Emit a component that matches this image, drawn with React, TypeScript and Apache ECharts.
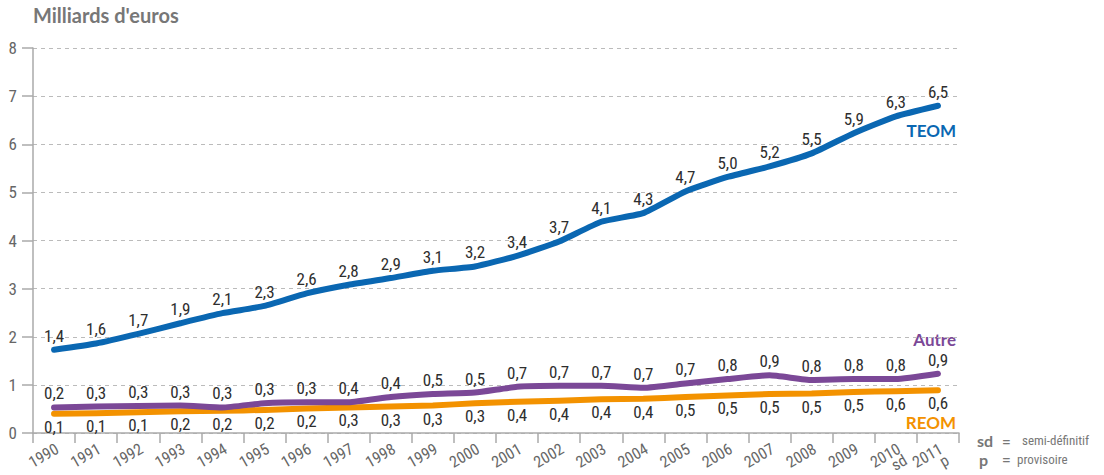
import React, { useEffect, useRef } from "react";
import * as echarts from "echarts";

const years = ["1990","1991","1992","1993","1994","1995","1996","1997","1998","1999","2000","2001","2002","2003","2004","2005","2006","2007","2008","2009","2010","2011"];
const yearSuffix = ["","","","","","","","","","","","","","","","","","","","","sd","p"];

// Line positions as drawn in the reference
const teomLine = [1.73,1.86,2.06,2.28,2.49,2.64,2.90,3.08,3.22,3.37,3.46,3.68,3.98,4.39,4.57,5.02,5.32,5.54,5.81,6.23,6.58,6.80];
const autreLine = [0.53,0.55,0.56,0.57,0.53,0.62,0.64,0.64,0.75,0.81,0.84,0.96,0.98,0.98,0.94,1.03,1.12,1.20,1.10,1.12,1.12,1.23];
const reomLine = [0.40,0.41,0.43,0.45,0.46,0.48,0.51,0.53,0.55,0.57,0.62,0.65,0.67,0.70,0.71,0.75,0.78,0.81,0.82,0.85,0.87,0.89];

// Printed value labels
const teomLabels = ["1,4","1,6","1,7","1,9","2,1","2,3","2,6","2,8","2,9","3,1","3,2","3,4","3,7","4,1","4,3","4,7","5,0","5,2","5,5","5,9","6,3","6,5"];
const autreLabels = ["0,2","0,3","0,3","0,3","0,3","0,3","0,3","0,4","0,4","0,5","0,5","0,7","0,7","0,7","0,7","0,7","0,8","0,9","0,8","0,8","0,8","0,9"];
const reomLabels = ["0,1","0,1","0,1","0,2","0,2","0,2","0,2","0,3","0,3","0,3","0,3","0,4","0,4","0,4","0,4","0,5","0,5","0,5","0,5","0,5","0,6","0,6"];

const yTicks = [0, 1, 2, 3, 4, 5, 6, 7, 8];

const COND = "'Roboto Condensed', 'DejaVu Sans Condensed', sans-serif";
const BOLD = "Lato, 'Open Sans', sans-serif";

const BLUE = "#0a67b2";
const PURPLE = "#7b4897";
const ORANGE = "#f39200";

export default function App() {
  const ref = useRef<HTMLDivElement>(null);
  useEffect(() => {
    if (!ref.current) return;
    const chart = echarts.init(ref.current, undefined, { renderer: "svg" });
    const mkSeries = (name: string, data: number[], labels: string[], color: string, pos: string, dist: number, z: number) => ({
      name,
      type: "line",
      data,
      z,
      smooth: 0.15,
      symbol: "circle",
      symbolSize: 1,
      showSymbol: true,
      itemStyle: { color },
      lineStyle: { color, width: 6, cap: "round", join: "round" },
      label: {
        show: true,
        position: pos,
        distance: dist,
        formatter: (p: any) => labels[p.dataIndex],
        fontFamily: COND,
        fontSize: 17,
        lineHeight: 17,
        color: "#2e2e2e",
      },
    });
    chart.setOption({
      animation: false,
      grid: { left: 33, right: 145, top: 48, bottom: 42, containLabel: false, outerBoundsMode: "none" },
      xAxis: {
        type: "category",
        data: years,
        boundaryGap: true,
        axisLine: { lineStyle: { color: "#aaa", width: 1.5 } },
        axisTick: { show: true, length: 10, interval: 0, lineStyle: { color: "#aaa", width: 1.5 } },
        axisLabel: {
          interval: 0,
          rotate: 30,
          margin: 9,
          align: "right",
          verticalAlign: "top",
          color: "#666",
          fontFamily: COND,
          fontSize: 16,
          lineHeight: 13,
          formatter: (v: string, i: number) => (yearSuffix[i] ? v + "\n" + yearSuffix[i] : v),
        },
        splitLine: { show: false },
      },
      yAxis: {
        type: "value",
        min: yTicks[0],
        max: yTicks[yTicks.length - 1],
        interval: 1,
        axisLine: { show: true, lineStyle: { color: "#aaa", width: 1.5 } },
        axisTick: { show: true, length: 11, lineStyle: { color: "#aaa", width: 1.5 } },
        axisLabel: { color: "#666", fontFamily: COND, fontSize: 17, margin: 16 },
        splitLine: { show: true, lineStyle: { color: "#bbb", type: [4, 4], width: 1 } },
      },
      series: [
        mkSeries("REOM", reomLine, reomLabels, ORANGE, "bottom", 4, 2),
        mkSeries("Autre", autreLine, autreLabels, PURPLE, "top", 5, 3),
        mkSeries("TEOM", teomLine, teomLabels, BLUE, "top", 5, 4),
      ],
      graphic: [
        {
          type: "text",
          left: 33,
          top: 5,
          style: { text: "Milliards d'euros", font: `bold 20px ${BOLD}`, fill: "#777" },
        },
        {
          type: "text",
          right: 148,
          top: 122,
          style: { text: "TEOM", font: `bold 17px ${BOLD}`, fill: BLUE, lineHeight: 17 },
        },
        {
          type: "text",
          right: 148,
          top: 331,
          style: { text: "Autre", font: `bold 17px ${BOLD}`, fill: PURPLE, lineHeight: 17 },
        },
        {
          type: "text",
          right: 148,
          top: 414,
          style: { text: "REOM", font: `bold 17px ${BOLD}`, fill: ORANGE, lineHeight: 17 },
        },
        { type: "text", left: 977, top: 432, style: { text: "sd", font: `bold 16px ${BOLD}`, fill: "#777", lineHeight: 16 } },
        { type: "text", left: 1002, top: 433, style: { text: "=", font: `bold 15px ${BOLD}`, fill: "#777", lineHeight: 14 } },
        { type: "text", left: 1022, top: 433, style: { text: "semi-définitif", font: `13px ${COND}`, fill: "#777", lineHeight: 14 } },
        { type: "text", left: 979, top: 451, style: { text: "p", font: `bold 16px ${BOLD}`, fill: "#777", lineHeight: 16 } },
        { type: "text", left: 1002, top: 451, style: { text: "=", font: `bold 15px ${BOLD}`, fill: "#777", lineHeight: 14 } },
        { type: "text", left: 1017, top: 452, style: { text: "provisoire", font: `13px ${COND}`, fill: "#777", lineHeight: 14 } },
      ],
    });
    return () => chart.dispose();
  }, []);
  return (
    <div
      ref={ref}
      style={{ position: "fixed", left: 0, top: 0, width: 1104, height: 475, background: "#fff" }}
    />
  );
}
